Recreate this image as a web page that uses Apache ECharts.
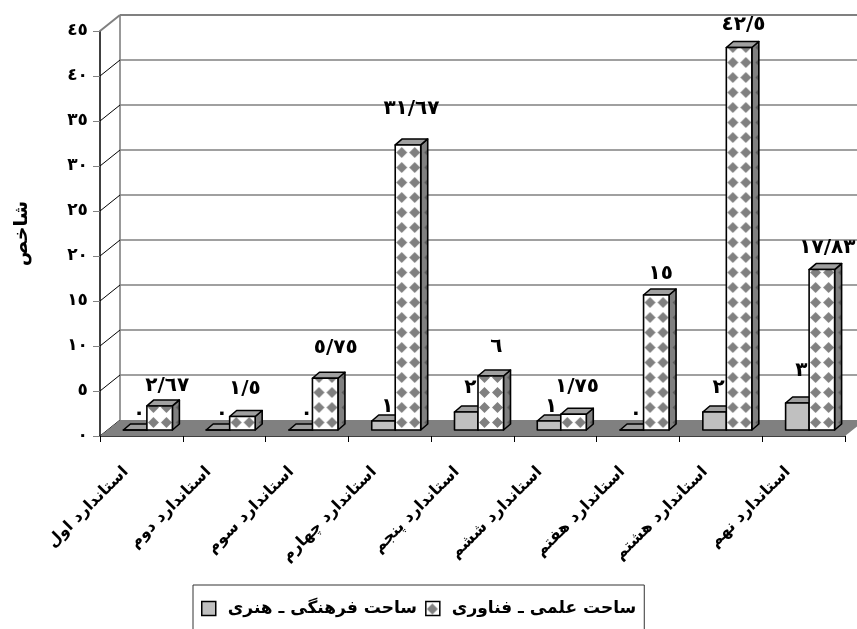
<!DOCTYPE html>
<html>
<head>
<meta charset="utf-8">
<style>html,body{margin:0;background:#fff}#chart{width:857px;height:629px}</style>
<script src="https://cdn.jsdelivr.net/npm/echarts@6/dist/echarts.min.js"></script>
</head>
<body>
<div id="chart"></div>
<script>
const categories = ['استاندارد اول', 'استاندارد دوم', 'استاندارد سوم', 'استاندارد چهارم', 'استاندارد پنجم', 'استاندارد ششم', 'استاندارد هفتم', 'استاندارد هشتم', 'استاندارد نهم']
const honari = [0, 0, 0, 1, 2, 1, 0, 2, 3]
const fanavari = [2.67, 1.5, 5.75, 31.67, 6, 1.75, 15, 42.5, 17.83]
const yTicks = [0, 5, 10, 15, 20, 25, 30, 35, 40, 45]
const nameHonari = 'ساحت فرهنگی ـ هنری'
const nameFanavari = 'ساحت علمی ـ فناوری'
const FONT = '"DejaVu Sans"'
const toFa = (v) => String(v).replace('.', '/').replace(/\d/g, (d) => '٠١٢٣٤٥٦٧٨٩'[d])

// wall / floor depth and bar depth, as in the old 3D office charts
const WALL = [20, -16]
const BAR_SHIFT = [5.5, -6]
const BAR_DEPTH = [7, -6]
// the labels were moved by hand in the original
const liftHonari = [13, 13, 13, 11, 21, 11, 13, 21, 29]
const liftFanavari = [17, 25, 27, 33, 26, 24, 18, 20, 19]
const nudgeFanavari = [5, 0, 8, 1, 3, 1, 2, 2, 3]
const nudgeHonari = [2, 2, 4, 2, 2, 0, 2, 2, 2]

function makeTile(bg, fg, r) {
	const c = document.createElement('canvas')
	c.width = 13
	c.height = 15
	const g = c.getContext('2d')
	g.fillStyle = bg
	g.fillRect(0, 0, 13, 15)
	g.fillStyle = fg
	g.beginPath()
	g.moveTo(6.5, 7.5 - r)
	g.lineTo(6.5 + r, 7.5)
	g.lineTo(6.5, 7.5 + r)
	g.lineTo(6.5 - r, 7.5)
	g.fill()
	return c
}
const faceTile = makeTile('#ffffff', '#808080', 5.5)
const sideTile = makeTile('#808080', '#5c5c5c', 3)
const pattern = (image, x, y) => ({ image, repeat: 'repeat', x, y })

function wallItem(params, api) {
	const t = api.value(0)
	const p = api.coord([0, t])
	const x0 = params.coordSys.x
	const x1 = x0 + params.coordSys.width
	const top = t === 45
	const kids = [{
		type: 'line',
		shape: { x1: x0, y1: p[1], x2: x0 + WALL[0], y2: p[1] + WALL[1] },
		style: { stroke: top ? '#808080' : '#000', lineWidth: top ? 2 : 1 }
	}]
	if (t > 0) {
		kids.push({
			type: 'line',
			shape: { x1: x0 + WALL[0], y1: p[1] + WALL[1], x2: x1 + WALL[0], y2: p[1] + WALL[1] },
			style: { stroke: '#808080', lineWidth: top ? 2 : 1.5 }
		})
	} else {
		kids.push({
			type: 'polygon',
			shape: { points: [[x0, p[1]], [x0 + WALL[0], p[1] + WALL[1]], [x1 + WALL[0], p[1] + WALL[1]], [x1, p[1]]] },
			style: { fill: '#808080' }
		})
		kids.push({
			type: 'line',
			shape: { x1: x0 + WALL[0], y1: p[1] + WALL[1], x2: x0 + WALL[0], y2: params.coordSys.y + WALL[1] },
			style: { stroke: '#999999', lineWidth: 2 }
		})
	}
	return { type: 'group', children: kids }
}

function barItem(cfg) {
	return (params, api) => {
		const i = api.value(0)
		const v = api.value(1)
		const base = api.coord([i, 0])
		const head = api.coord([i, v])
		const xa = base[0] + BAR_SHIFT[0] + (cfg.first ? -cfg.width : 0)
		const xb = xa + cfg.width
		const yb = base[1] + BAR_SHIFT[1]
		const yt = head[1] + BAR_SHIFT[1]
		const dx = BAR_DEPTH[0]
		const dy = BAR_DEPTH[1]
		const edge = { stroke: '#000', lineWidth: 1.6, lineJoin: 'round' }
		const face = cfg.tile ? pattern(cfg.tile, xa, yb) : cfg.face
		const side = cfg.sideTile ? pattern(cfg.sideTile, xb, yb) : cfg.side
		return {
			type: 'group',
			children: [
				{ type: 'polygon', shape: { points: [[xb, yb], [xb + dx, yb + dy], [xb + dx, yt + dy], [xb, yt]] }, style: { fill: side, ...edge } },
				{ type: 'polygon', shape: { points: [[xa, yt], [xa + dx, yt + dy], [xb + dx, yt + dy], [xb, yt]] }, style: { fill: cfg.top, ...edge } },
				{ type: 'rect', shape: { x: xa, y: yt, width: cfg.width, height: yb - yt }, style: { fill: face, ...edge } },
				{
					type: 'text',
					style: {
						text: toFa(v),
						x: (xa + xb) / 2 + cfg.nudge[i],
						y: yt + dy / 2 - cfg.lift[i],
						align: 'center',
						verticalAlign: 'middle',
						font: 'bold 20px ' + FONT,
						fill: '#000'
					}
				}
			]
		}
	}
}

const chart = echarts.init(document.getElementById('chart'))

chart.setOption({
	animation: false,
	backgroundColor: '#fff',
	grid: { left: 100, right: 12, top: 31, height: 405 },
	legend: {
		left: 193,
		top: 585,
		itemGap: 8,
		itemWidth: 14,
		itemHeight: 14,
		padding: [15, 8, 14, 8],
		borderColor: '#333',
		borderWidth: 1,
		selectedMode: false,
		textStyle: { fontFamily: FONT, fontWeight: 'bold', fontSize: 17, color: '#000', padding: [0, 0, 0, 7] },
		data: [
			{ name: nameHonari, icon: 'rect', itemStyle: { color: '#c0c0c0', borderColor: '#000', borderWidth: 1.5 } },
			{ name: nameFanavari, icon: 'rect', itemStyle: { color: pattern(faceTile, 0, 0), borderColor: '#000', borderWidth: 1.5 } }
		]
	},
	xAxis: {
		type: 'category',
		data: categories,
		axisLine: { lineStyle: { color: '#000', width: 1.5 } },
		axisTick: { show: true, length: 6, lineStyle: { color: '#000' } },
		axisLabel: {
			interval: 0,
			rotate: 45,
			margin: 18,
			padding: [0, 22, 0, 0],
			fontFamily: FONT,
			fontWeight: 'bold',
			fontSize: 16,
			color: '#000'
		}
	},
	yAxis: {
		type: 'value',
		min: 0,
		max: 45,
		interval: 5,
		name: 'شاخص',
		nameLocation: 'middle',
		nameRotate: 90,
		nameGap: 58,
		nameTextStyle: { fontFamily: FONT, fontWeight: 'bold', fontSize: 19, color: '#000', padding: [0, 0, 10, 0] },
		axisLine: { show: true, lineStyle: { color: '#000', width: 1.5 } },
		axisTick: { show: true, length: 7, lineStyle: { color: '#808080' } },
		splitLine: { show: false },
		axisLabel: {
			margin: 12,
			fontFamily: FONT,
			fontWeight: 'bold',
			fontSize: 17,
			color: '#000',
			formatter: (v) => toFa(v)
		}
	},
	series: [
		{
			type: 'custom',
			silent: true,
			z: 1,
			coordinateSystem: 'cartesian2d',
			encode: { x: 1, y: 0 },
			data: yTicks.map((t) => [t, 0]),
			renderItem: wallItem
		},
		{
			name: nameHonari,
			type: 'custom',
			z: 2,
			itemStyle: { color: '#c0c0c0' },
			encode: { x: 0, y: 1 },
			data: honari.map((v, i) => [i, v]),
			renderItem: barItem({ first: true, width: 23.5, face: '#c0c0c0', side: '#808080', top: '#a0a0a0', lift: liftHonari, nudge: nudgeHonari.map((n) => n + 2) })
		},
		{
			name: nameFanavari,
			type: 'custom',
			z: 3,
			itemStyle: { color: '#808080' },
			encode: { x: 0, y: 1 },
			data: fanavari.map((v, i) => [i, v]),
			renderItem: barItem({ first: false, width: 25.5, tile: faceTile, sideTile: sideTile, top: '#a0a0a0', lift: liftFanavari, nudge: nudgeFanavari.map((n) => n + 2.5) })
		}
	]
})
</script>
</body>
</html>
